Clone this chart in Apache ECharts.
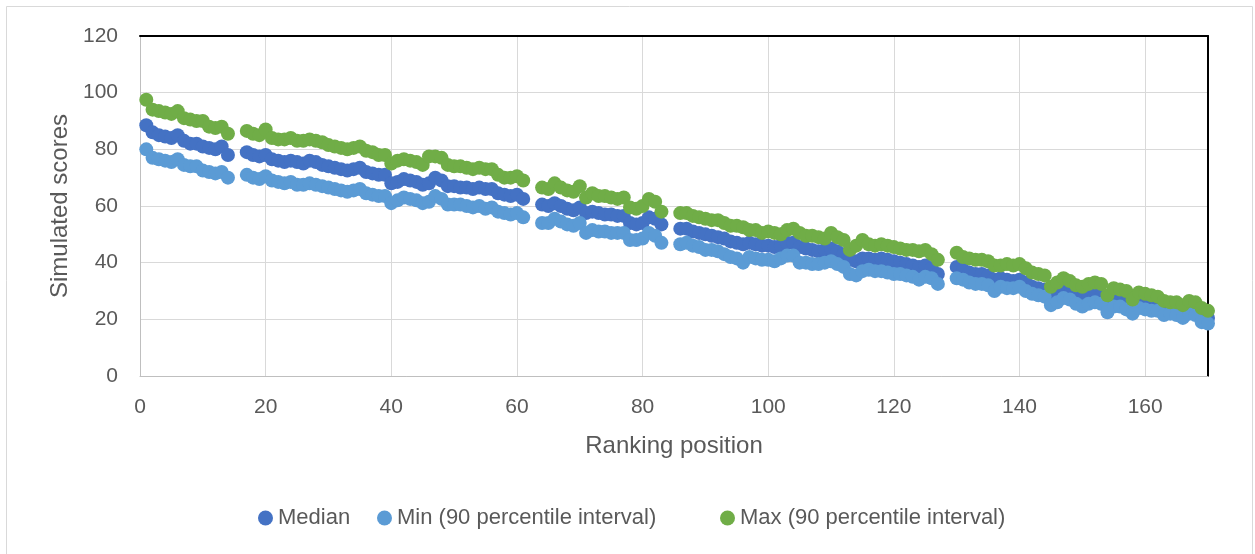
<!DOCTYPE html>
<html>
<head>
<meta charset="utf-8">
<script src="https://cdn.jsdelivr.net/npm/echarts@6/dist/echarts.min.js"></script>
<style>
  html, body { margin: 0; padding: 0; background: #fff; }
  #chart1 { width: 1255px; height: 554px; }
</style>
</head>
<body>
<div id="chart1"></div>
<script>
// ranking positions 1..170, null where no country is placed
const medianScores = [
  88.5, 86, 85, 84.5, 84, 85, 83, 82, 82, 81, 80.5, 80, 81, 78, null, null,
  79, 78, 77.5, 78, 76.5, 76, 75.5, 76, 75.5, 75, 76, 75.5, 74.5, 74,
  73.5, 73, 72.5, 73, 73.5, 72, 71.5, 71, 71, 68, 68.5, 69.5, 69, 68.5, 67.5,
  68, 70, 69, 67, 67, 66.5, 66.5, 66, 66.5, 66, 66, 64.5, 64, 63.5, 64, 62.5, null, null,
  60.5, 60, 61, 60, 59, 58.5, 59.5, 57.5, 58, 57.5, 57, 57, 56.5, 56.5, 54, 53.5,
  54, 56, 55.5, 53.5, null, null,
  52, 52, 51, 50.5, 50, 49.5, 49, 48.5, 47.5, 47, 46.5, 47, 46.5, 46, 46, 45.5,
  46, 47, 47, 45.5, 45, 44.5, 44, 44.5, 45, 44, 43, 41, 40.5, 41.5, 41.5, 41,
  41.5, 41, 40.5, 40, 39.5, 39, 38.5, 39, 38, 36, null, null,
  38.5, 37.5, 36.5, 36, 36, 35.5, 34, 34.5, 34, 33.5, 34, 33, 31.5, 31, 30.5,
  27.5, 28.5, 30, 29, 28, 27, 28, 28.5, 28, 25, 27, 27, 26, 24.5, 26, 25.5,
  25.5, 25, 23.5, 23.5, 23, 22, 23.5, 23, 21, 20.5
];
const minScores = [
  80, 77, 76.5, 76, 75.5, 76.5, 74.5, 74, 74, 72.5, 72, 71.5, 72, 70, null, null,
  71, 70, 69.5, 70.5, 69, 68.5, 68, 68.5, 67.5, 67.5, 68, 67.5, 67, 66.5,
  66, 65.5, 65, 65.5, 66, 64.5, 64, 63.5, 63.5, 61, 62, 63, 62.5, 62, 61,
  61.5, 63.5, 62.5, 60.5, 60.5, 60.5, 60, 59.5, 60, 59, 59.5, 58, 57.5, 57, 57.5, 56, null, null,
  54, 54, 55.5, 54.5, 53.5, 53, 54, 50.5, 51.5, 51, 51, 50.5, 50.5, 50.5, 48, 48,
  48.5, 50.5, 49.5, 47, null, null,
  46.5, 47, 46, 45.5, 44.5, 44.5, 44, 43, 42, 41.5, 40, 42, 41.5, 41, 41, 40.5,
  41.5, 42.5, 42.5, 40, 40, 39.5, 39.5, 40, 40.5, 39.5, 38.5, 36, 35.5, 37, 37.5, 37,
  37, 36.5, 36, 36, 35.5, 35, 34, 35, 34.5, 32.5, null, null,
  34.5, 34, 33, 32.5, 32.5, 32, 30, 31.5, 31, 31, 31.5, 30, 29, 28.5, 28,
  25, 26, 27.5, 27, 25.5, 24.5, 25.5, 26, 25.5, 22.5, 24.5, 24.5, 23.5, 22, 24, 23.5,
  23, 23, 21.5, 22, 21.5, 20.5, 22, 21.5, 19, 18.5
];
const maxScores = [
  97.5, 94, 93.5, 93, 92.5, 93.5, 91, 90.5, 90, 90, 88, 87.5, 88, 85.5, null, null,
  86.5, 85.5, 85, 87, 84, 83.5, 83.5, 84, 83, 83, 83.5, 83, 82.5, 81.5,
  81, 80.5, 80, 80.5, 81, 79.5, 79, 78, 78, 75, 76, 76.5, 76, 75.5, 74.5,
  77.5, 77.5, 77, 74.5, 74, 74, 73.5, 73, 73.5, 73, 73, 71, 70, 70, 70.5, 69, null, null,
  66.5, 66, 68, 66.5, 65.5, 65, 67, 63, 64.5, 63.5, 63.5, 63, 62.5, 63, 59.5, 59,
  60, 62.5, 61.5, 58, null, null,
  57.5, 57.5, 56.5, 56, 55.5, 55, 55, 54, 53, 53, 52.5, 51.5, 51.5, 50.5, 51, 50.5,
  50, 51.5, 52, 50.5, 49.5, 49.5, 49, 48.5, 50.5, 49, 48, 44.5, 46, 48, 46.5, 46,
  46.5, 46, 45.5, 45, 44.5, 44.5, 44, 44.5, 43, 41, null, null,
  43.5, 42, 41.5, 41, 41, 40.5, 39, 39, 39.5, 39, 39.5, 38, 36.5, 36, 35.5,
  31.5, 33, 34.5, 33.5, 32, 31.5, 32.5, 33, 32.5, 28.5, 31, 30.5, 30, 27, 29.5, 29,
  28.5, 28, 26.5, 26, 26, 25, 26.5, 26, 24, 23
];
const seriesNames = ['Median', 'Min (90 percentile interval)', 'Max (90 percentile interval)'];
const seriesColors = ['#4472C4', '#5B9BD5', '#70AD47'];
const legendLeft = [258, 377, 720];

function toPoints(arr) {
  let pts = [];
  for (let i = 0; i < arr.length; i++) {
    if (arr[i] !== null) pts.push([i + 1, arr[i]]);
  }
  return pts;
}

let dom = document.getElementById("chart1");
let myChart = echarts.init(dom, null, { renderer: 'canvas' });
const font = '"Liberation Sans", sans-serif';
const txt = '#595959';

let option = {
  backgroundColor: '#fff',
  animation: false,
  graphic: [{
    type: 'rect',
    shape: { x: 6.5, y: 6.5, width: 1246, height: 560 },
    style: { fill: 'none', stroke: '#d9d9d9', lineWidth: 1 },
    silent: true
  }],
  // one legend per entry so each sits where the original has it
  legend: seriesNames.map(function (name, k) {
    return {
      top: 507,
      left: legendLeft[k],
      padding: 0,
      itemWidth: 15,
      itemHeight: 15,
      icon: 'circle',
      textStyle: { color: txt, fontSize: 22, fontFamily: font },
      data: [name]
    };
  }),
  grid: { left: 140, right: 47, top: 36, bottom: 178 },
  xAxis: [{
    type: 'value',
    min: 0, max: 170, interval: 20,
    name: 'Ranking position',
    nameLocation: 'middle',
    nameGap: 58,
    nameTextStyle: { color: txt, fontSize: 24, fontFamily: font },
    axisLine: { show: true, onZero: false, lineStyle: { color: '#bfbfbf' } },
    axisTick: { show: false },
    axisLabel: { color: txt, fontSize: 21, fontFamily: font, margin: 21, showMaxLabel: false },
    splitLine: { show: true, lineStyle: { color: '#d9d9d9' } }
  }, {
    type: 'value',
    position: 'top',
    min: 0, max: 170,
    axisLine: { show: true, onZero: false, lineStyle: { color: '#000', width: 2 } },
    axisTick: { show: false },
    axisLabel: { show: false },
    splitLine: { show: false }
  }],
  yAxis: [{
    type: 'value',
    min: 0, max: 120, interval: 20,
    name: 'Simulated scores',
    nameLocation: 'middle',
    nameGap: 68,
    nameTextStyle: { color: txt, fontSize: 24, fontFamily: font },
    axisLine: { show: true, onZero: false, lineStyle: { color: '#bfbfbf' } },
    axisTick: { show: false },
    axisLabel: { color: txt, fontSize: 21, fontFamily: font, margin: 22 },
    splitLine: { show: true, lineStyle: { color: '#d9d9d9' } }
  }, {
    type: 'value',
    position: 'right',
    min: 0, max: 120,
    axisLine: { show: true, onZero: false, lineStyle: { color: '#000', width: 2 } },
    axisTick: { show: false },
    axisLabel: { show: false },
    splitLine: { show: false }
  }],
  series: [medianScores, minScores, maxScores].map(function (arr, k) {
    return {
      name: seriesNames[k],
      type: 'scatter',
      symbol: 'circle',
      symbolSize: 14,
      itemStyle: { color: seriesColors[k], opacity: 1 },
      data: toPoints(arr)
    };
  })
};

if (option && typeof option === 'object') {
  myChart.setOption(option);
}
</script>
</body>
</html>
